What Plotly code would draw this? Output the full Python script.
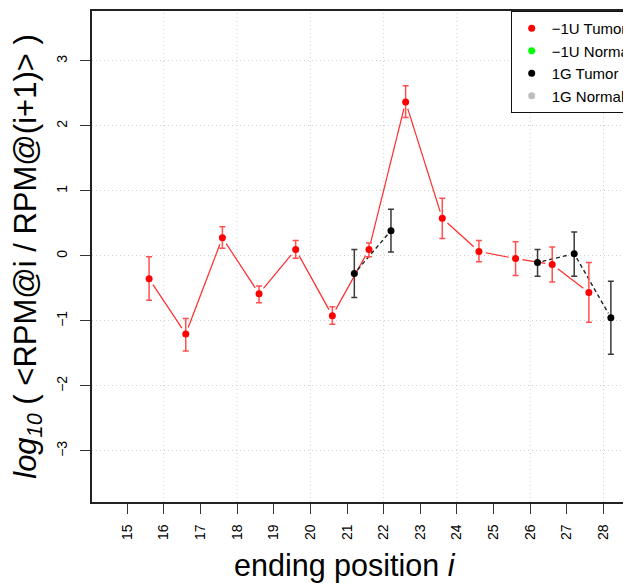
import math
import plotly.graph_objects as go

# ---------------- data ----------------
# -1U Tumor (red): ending positions and log10 ratio with error bounds
u_pos = [16, 17, 18, 19, 20, 21, 22, 23, 24, 25, 26, 27, 28]
u_val = [-0.35, -1.20, 0.28, -0.58, 0.10, -0.92, 0.10, 2.37, 0.58, 0.07, -0.04, -0.13, -0.56]
u_hi = [-0.01, -0.96, 0.45, -0.46, 0.24, -0.78, 0.20, 2.62, 0.89, 0.24, 0.22, 0.14, -0.10]
u_lo = [-0.68, -1.46, 0.12, -0.72, -0.035, -1.05, -0.01, 2.13, 0.27, -0.09, -0.30, -0.40, -1.02]

# 1G Tumor (black)
g_pos = [21, 22, 23, 24, 25, 26, 27, 28]
g_val = [-0.27, 0.39, None, None, None, -0.10, 0.035, -0.95]
g_hi = [0.10, 0.72, None, None, None, 0.10, 0.37, -0.39]
g_lo = [-0.64, 0.06, None, None, None, -0.31, -0.31, -1.51]

# series offsets along x
u_off = -0.4
g_off = 0.2

x_ticks = list(range(15, 29))
x_grid = list(range(16, 29, 2))
y_ticks = [-3, -2, -1, 0, 1, 2, 3]

# ---------------- layout geometry ----------------
# (the page body adds an 8px offset, so the figure is placed accordingly)
W, H = 631, 583
ML, MR, MT, MB = 84, 0, 3, 89
X_RANGE = [14.042, 28.886]
Y_RANGE = [-3.785, 3.769]
PX_X = (W - ML - MR) / (X_RANGE[1] - X_RANGE[0])
PX_Y = (H - MT - MB) / (Y_RANGE[1] - Y_RANGE[0])

FONT = "Liberation Sans, Arial, Helvetica, sans-serif"
GRID = "#CFCFCF"


def gapped(xs, ys, gap_px):
    """R type='b' style: line segments shortened near each point."""
    ox, oy = [], []
    for i in range(len(xs) - 1):
        x0, y0, x1, y1 = xs[i], ys[i], xs[i + 1], ys[i + 1]
        if y0 is None or y1 is None:
            continue
        dxp = (x1 - x0) * PX_X
        dyp = (y1 - y0) * PX_Y
        L = math.hypot(dxp, dyp)
        if L <= 2 * gap_px:
            continue
        f = gap_px / L
        ox += [x0 + (x1 - x0) * f, x1 - (x1 - x0) * f, None]
        oy += [y0 + (y1 - y0) * f, y1 - (y1 - y0) * f, None]
    return ox, oy


ux = [p + u_off for p in u_pos]
gx = [p + g_off for p in g_pos]

fig = go.Figure()

# red connecting line
lx, ly = gapped(ux, u_val, 7)
fig.add_trace(go.Scatter(x=lx, y=ly, mode="lines", showlegend=False, hoverinfo="skip",
                         line=dict(color="#FF2A2A", width=1.2)))
# black dashed connecting line
bx, by = gapped(gx, g_val, 5)
fig.add_trace(go.Scatter(x=bx, y=by, mode="lines", showlegend=False, hoverinfo="skip",
                         line=dict(color="#222222", width=1.4, dash="4px,3px")))

# red points with error bars
fig.add_trace(go.Scatter(
    x=ux, y=u_val, mode="markers", name="\u22121U Tumor",
    marker=dict(color="#FF0000", size=7),
    error_y=dict(type="data", symmetric=False,
                 array=[h - v for h, v in zip(u_hi, u_val)],
                 arrayminus=[v - l for l, v in zip(u_lo, u_val)],
                 color="#FF5050", thickness=1.5, width=3),
))
# legend-only -1U Normal
fig.add_trace(go.Scatter(x=[None], y=[None], mode="markers", name="\u22121U Normal",
                         marker=dict(color="#00FF00", size=7)))
# black points with error bars
fig.add_trace(go.Scatter(
    x=gx, y=g_val, mode="markers", name="1G Tumor",
    marker=dict(color="#000000", size=7),
    error_y=dict(type="data", symmetric=False,
                 array=[(h - v) if v is not None else None for h, v in zip(g_hi, g_val)],
                 arrayminus=[(v - l) if v is not None else None for l, v in zip(g_lo, g_val)],
                 color="#3A3A3A", thickness=1.5, width=3),
))
# legend-only 1G Normal
fig.add_trace(go.Scatter(x=[None], y=[None], mode="markers", name="1G Normal",
                         marker=dict(color="#BEBEBE", size=7)))

# vertical dotted grid lines at even positions
for gv in x_grid:
    fig.add_shape(type="line", xref="x", yref="paper", x0=gv, x1=gv, y0=0, y1=1,
                  layer="below", line=dict(color=GRID, width=1, dash="1px,3px"))

# x-axis title (placed as in the original, left of the plot centre)
fig.add_annotation(
    text="ending position <i>i</i>", xref="paper", yref="paper",
    x=(338 - ML) / (W - ML - MR), y=-(557 - (H - MB)) / (H - MT - MB),
    xanchor="center", yanchor="middle", showarrow=False,
    font=dict(size=30.5, family=FONT, color="black"),
)

fig.update_layout(
    width=W, height=H,
    margin=dict(l=ML, r=MR, t=MT, b=MB, pad=0),
    paper_bgcolor="white", plot_bgcolor="white",
    font=dict(family=FONT, color="black", size=14),
    showlegend=True,
    legend=dict(
        x=(505 - ML) / (W - ML - MR), y=1, xanchor="left", yanchor="top",
        bgcolor="white", bordercolor="#111111", borderwidth=1,
        font=dict(family=FONT, size=15, color="black"),
        traceorder="normal",
    ),
    xaxis=dict(
        range=X_RANGE, tickmode="array", tickvals=x_ticks,
        ticktext=[str(t) for t in x_ticks], tickangle=-90,
        ticks="outside", ticklen=10, tickwidth=1, tickcolor="#333333",
        ticklabelstandoff=5,
        showgrid=False, zeroline=False,
        showline=True, linecolor="#222222", linewidth=1.5, mirror=True,
        tickfont=dict(size=14, family=FONT, color="black"),
        automargin=False,
    ),
    yaxis=dict(
        range=Y_RANGE, tickmode="array", tickvals=y_ticks, tickangle=-90,
        ticks="outside", ticklen=10, tickwidth=1, tickcolor="#333333",
        ticklabelstandoff=8,
        showgrid=True, gridcolor=GRID, gridwidth=1, griddash="1px,3px",
        zeroline=False,
        showline=True, linecolor="#222222", linewidth=1.5, mirror=False,
        tickfont=dict(size=14, family=FONT, color="black"),
        title=dict(text="<i>log</i><sub><i>10</i></sub> ( &lt;RPM@i / RPM@(i+1)&gt; )",
                   font=dict(size=31, family=FONT, color="black"), standoff=16),
        automargin=False,
    ),
)

fig.write_html("out.html")
